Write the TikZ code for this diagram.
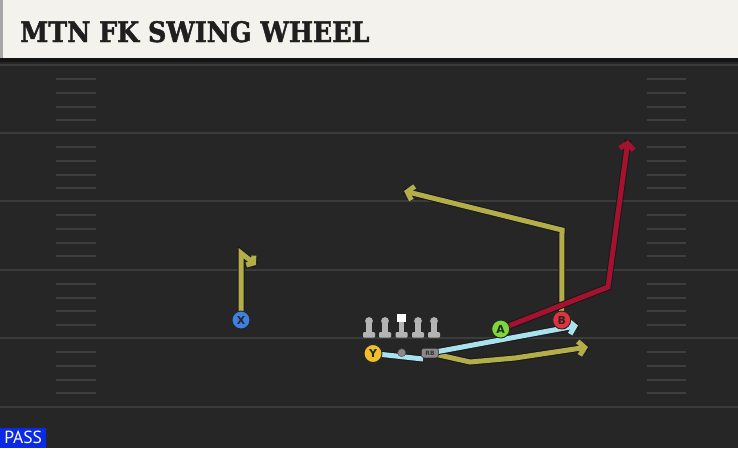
\documentclass[tikz,border=0pt]{standalone}
\usepackage{fontspec}
\usetikzlibrary{arrows.meta}
\newfontfamily\titlefont{DejaVu Serif Condensed}[BoldFeatures={FakeBold=1.6}]
\newfontfamily\passfont{PT Sans}
\newfontfamily\lblfont{DejaVu Sans}
\definecolor{hdr}{HTML}{F4F2EC}
\definecolor{fieldc}{HTML}{262626}
\definecolor{lne}{HTML}{3B3B3B}
\definecolor{hash}{HTML}{3E3E3E}
\definecolor{olive}{HTML}{B3AD4A}
\definecolor{crimson}{HTML}{A5122F}
\definecolor{sky}{HTML}{A8E2EE}
\definecolor{xblue}{HTML}{3F7FE0}
\definecolor{ygold}{HTML}{F0C02A}
\definecolor{agreen}{HTML}{7CD83A}
\definecolor{bred}{HTML}{E0343C}
\definecolor{passblue}{HTML}{0A2AE6}
\definecolor{olgray}{HTML}{B4B4B4}
\definecolor{rbgray}{HTML}{8A8A8A}
\newcommand\rte[2]{\draw[outl] #2; \draw[rline,#1] #2;}
\tikzset{
  fieldline/.style={draw=lne, line width=2pt},
  hashline/.style={draw=hash, line width=2pt},
  tip/.style={-{Straight Barb[length=6pt,width=14pt]}},
  smalltip/.style={-{Straight Barb[length=4.5pt,width=12pt]}},
  outl/.style={draw=black!90, line width=7pt},
  rline/.style={line width=5pt},
  player/.style={circle, draw=black!85, line width=0.9pt, minimum size=18pt, inner sep=0pt,
    font=\lblfont\bfseries\fontsize{11}{11}\selectfont, text=black!85},
  lman/.pic={
    \fill[olgray, rounded corners=1pt] (-6,11) rectangle (6,16.5);
    \fill[olgray] (-2.6,0) rectangle (2.6,12);
    \fill[olgray] (0,0) circle (3.9);
  },
  cman/.pic={
    \fill[olgray, rounded corners=1pt] (-6,11) rectangle (6,16.5);
    \fill[olgray] (-2.6,0) rectangle (2.6,12);
    \fill[white] (-4.3,-7) rectangle (4.3,0.8);
  }
}
\begin{document}
\begin{tikzpicture}[x=1pt,y=-1pt]
\useasboundingbox (0,0) rectangle (738,448);
\fill[fieldc] (0,0) rectangle (738,448);
% header
\fill[hdr] (0,0) rectangle (738,58);
\fill[black!35] (0,0) rectangle (3,58);
\fill[black!92] (0,58) rectangle (738,62);
% field lines
\foreach \y in {65,133,201,269.5,338,406.5} \draw[fieldline] (0,\y) -- (738,\y);
\foreach \g in {65,133,201,269.5,338} {
  \foreach \k in {1,2,3,4} {
    \draw[hashline] (56,\g+\k*13.6+0.8) -- (96,\g+\k*13.6+0.8);
    \draw[hashline] (647,\g+\k*13.6+0.8) -- (686,\g+\k*13.6+0.8);
  }
}
% title
\node[anchor=base west, inner sep=0pt, font=\titlefont\bfseries\fontsize{28.2}{28.2}\selectfont, text=black!88] (title) at (20,42) {MTN FK SWING WHEEL};
% players positions
\coordinate (Xp) at (241,320);
\coordinate (Yp) at (373,353.5);
\coordinate (Ap) at (500.7,329);
\coordinate (Bp) at (561.7,320);
% route corners
\coordinate (x1) at (241,253);
\coordinate (x2) at (256,265);
\coordinate (b1) at (562,230);
\coordinate (b2) at (404,191);
\coordinate (a1) at (608,287);
\coordinate (a2) at (628,140);
\coordinate (y1) at (423,359);
\coordinate (r1) at (578,325.5);
\coordinate (o1) at (470,362);
\coordinate (o2) at (515,358);
\coordinate (o3) at (588,347);
\coordinate (rbp) at (430,353);
% routes
\rte{olive,smalltip}{(Xp) -- (x1) -- (x2)}
\rte{olive,tip}{(Bp) -- (b1) -- (b2)}
\rte{crimson,tip}{(Ap) -- (a1) -- (a2)}
\rte{sky}{(Yp) -- (y1)}
\rte{olive,tip}{(rbp) -- (o1) -- (o2) -- (o3)}
\rte{sky,tip}{(rbp) -- (r1)}
% line
\pic at (369,321) {lman};
\pic at (385,321) {lman};
\pic at (401.7,321) {cman};
\pic at (418,321) {lman};
\pic at (434,321) {lman};
\node[circle, fill=rbgray, draw=black!70, line width=0.4pt, minimum size=8pt, inner sep=0pt] (qb) at (401.7,352.7) {};
\node[rounded corners=2.5pt, fill=rbgray, draw=black!80, line width=0.5pt, minimum width=17pt, minimum height=9.5pt, inner sep=0pt, font=\lblfont\bfseries\fontsize{6}{6}\selectfont, text=black!80] (rb) at (rbp) {RB};
% players
\node[player, fill=xblue] (X) at (Xp) {X};
\node[player, fill=ygold] (Y) at (Yp) {Y};
\node[player, fill=agreen] (A) at (Ap) {A};
\node[player, fill=bred] (B) at (Bp) {B};
% pass label
\node[fill=passblue, text=white, anchor=south west, minimum width=46pt, minimum height=20pt, inner sep=0pt, font=\passfont\fontsize{17.5}{17.5}\selectfont] (pass) at (0,448) {PASS};
\end{tikzpicture}
\end{document}
